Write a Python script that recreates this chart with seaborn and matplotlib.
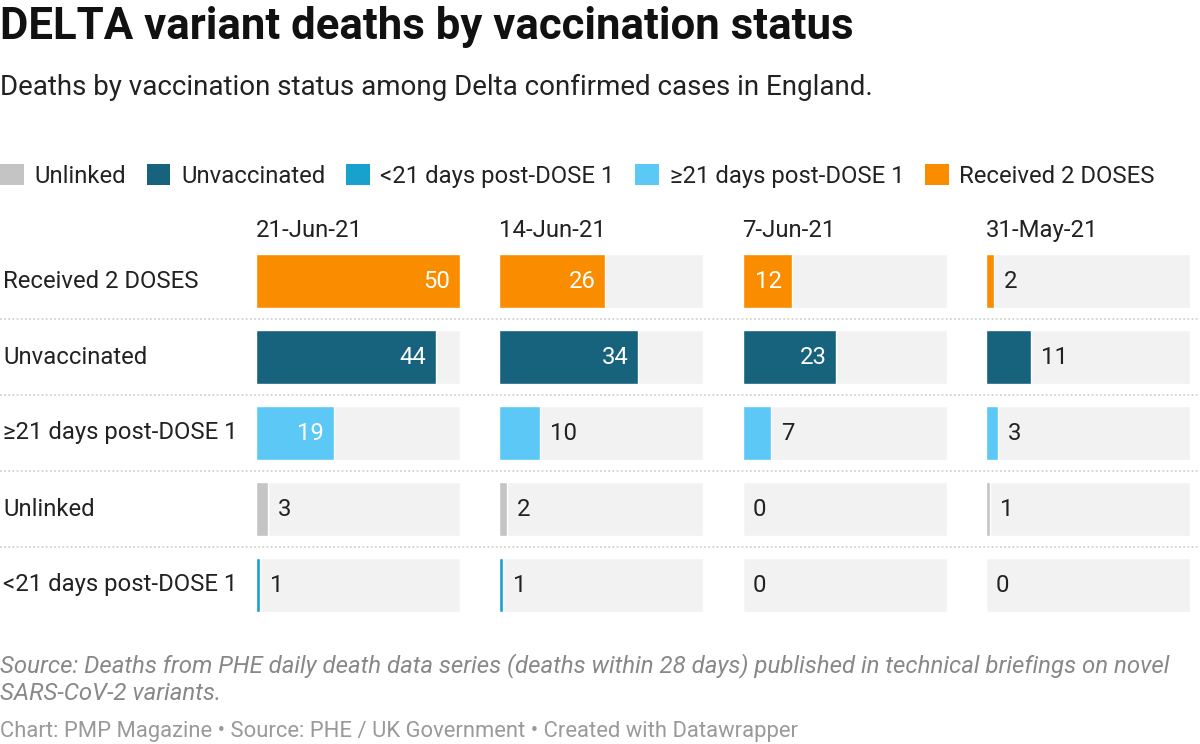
import matplotlib
matplotlib.use("Agg")
import matplotlib.pyplot as plt
import matplotlib.transforms as mtransforms
from matplotlib.lines import Line2D
from matplotlib.patches import Patch
import seaborn as sns
import pandas as pd

# data
dates = ["21-Jun-21", "14-Jun-21", "7-Jun-21", "31-May-21"]
rows = ["Received 2 DOSES", "Unvaccinated", "≥21 days post-DOSE 1", "Unlinked", "<21 days post-DOSE 1"]
received_2 = [50, 26, 12, 2]
unvaccinated = [44, 34, 23, 11]
post_dose1_21plus = [19, 10, 7, 3]
unlinked = [3, 2, 0, 1]
post_dose1_under21 = [1, 1, 0, 0]

legend_order = ["Unlinked", "Unvaccinated", "<21 days post-DOSE 1", "≥21 days post-DOSE 1", "Received 2 DOSES"]
colors = {
    "Unlinked": "#c4c4c4",
    "Unvaccinated": "#17627c",
    "<21 days post-DOSE 1": "#18a1cd",
    "≥21 days post-DOSE 1": "#5bc8f5",
    "Received 2 DOSES": "#fa8c00",
}

series = {
    "Received 2 DOSES": received_2,
    "Unvaccinated": unvaccinated,
    "≥21 days post-DOSE 1": post_dose1_21plus,
    "Unlinked": unlinked,
    "<21 days post-DOSE 1": post_dose1_under21,
}
df = pd.DataFrame(
    [(d, r, series[r][i]) for i, d in enumerate(dates) for r in rows],
    columns=["date", "status", "deaths"],
)
vmax = df["deaths"].max()

sns.set_theme(style="white")
plt.rcParams["font.family"] = ["Roboto", "DejaVu Sans"]

W, H = 1200, 744
fig = plt.figure(figsize=(W / 100, H / 100), dpi=100)

def fx(px):
    return px / W

def fy(py):
    return 1 - py / H

FS = 17.2

# title, subtitle
fig.text(fx(0), fy(27), "DELTA variant deaths by vaccination status", fontsize=31.5,
         fontweight="bold", color="#111111", va="center", ha="left")
fig.text(fx(0), fy(87), "Deaths by vaccination status among Delta confirmed cases in England.",
         fontsize=20, color="#222222", va="center", ha="left")

# legend
handles = [Patch(facecolor=colors[k], edgecolor="none", label=k) for k in legend_order]
fig.legend(handles=handles, loc="center left", bbox_to_anchor=(0, fy(176)), ncol=5,
           frameon=False, fontsize=FS, handlelength=1.0, handleheight=1.0,
           handletextpad=0.45, columnspacing=0.85, labelcolor="#222222",
           borderpad=0, borderaxespad=0)

# panels
col_w = 204
col_gap = 243.3
top_px, bot_px = 243, 623
axes = []
for i, d in enumerate(dates):
    ax = fig.add_axes([fx(256 + i * col_gap), fy(bot_px), fx(col_w), (bot_px - top_px) / H])
    sub = df[df["date"] == d]
    bg = pd.DataFrame({"status": rows, "deaths": [vmax] * len(rows)})
    sns.barplot(data=bg, y="status", x="deaths", order=rows, color="#f2f2f2",
                width=0.71, ax=ax, saturation=1)
    sns.barplot(data=sub, y="status", x="deaths", hue="status", order=rows,
                palette=colors, width=0.71, ax=ax, saturation=1, legend=False)
    for j, r in enumerate(rows):
        v = int(sub.loc[sub["status"] == r, "deaths"].iloc[0])
        if v >= 12:
            ax.annotate(str(v), (v, j), xytext=(-7, 0), textcoords="offset points",
                        ha="right", va="center", color="white", fontsize=FS)
        else:
            ax.annotate(str(v), (v, j), xytext=(7, 0), textcoords="offset points",
                        ha="left", va="center", color="#222222", fontsize=FS)
    ax.set_xlim(0, vmax)
    ax.set_ylim(len(rows) - 0.5, -0.5)
    ax.set_title(d, loc="left", fontsize=FS, color="#222222", pad=4)
    ax.set_xlabel("")
    ax.set_ylabel("")
    ax.set_xticks([])
    ax.set_yticks([])
    for s in ax.spines.values():
        s.set_visible(False)
    ax.patch.set_alpha(0)
    axes.append(ax)

# row labels
trans = mtransforms.blended_transform_factory(fig.transFigure, axes[0].transData)
for j, r in enumerate(rows):
    fig.text(fx(3), j, r, transform=trans, fontsize=FS, color="#222222",
             ha="left", va="center")

# dotted separators
for j in range(len(rows) - 1):
    y = j + 0.5
    ydisp = axes[0].transData.transform((0, y))[1]
    yfig = fig.transFigure.inverted().transform((0, ydisp))[1]
    fig.add_artist(Line2D([0, 1], [yfig, yfig], transform=fig.transFigure,
                          color="#cccccc", linestyle=(0, (1, 1.5)), linewidth=1.2))

# footer
fig.text(fx(0), fy(666), "Source: Deaths from PHE daily death data series (deaths within 28 days) "
         "published in technical briefings on novel", fontsize=17.3, style="italic",
         color="#888888", ha="left", va="center")
fig.text(fx(0), fy(693), "SARS-CoV-2 variants.", fontsize=17.3, style="italic",
         color="#888888", ha="left", va="center")
fig.text(fx(0), fy(731), "Chart: PMP Magazine • Source: PHE / UK Government • Created with Datawrapper",
         fontsize=15.8, color="#9a9a9a", ha="left", va="center")

fig.savefig("out.png", dpi=100)
